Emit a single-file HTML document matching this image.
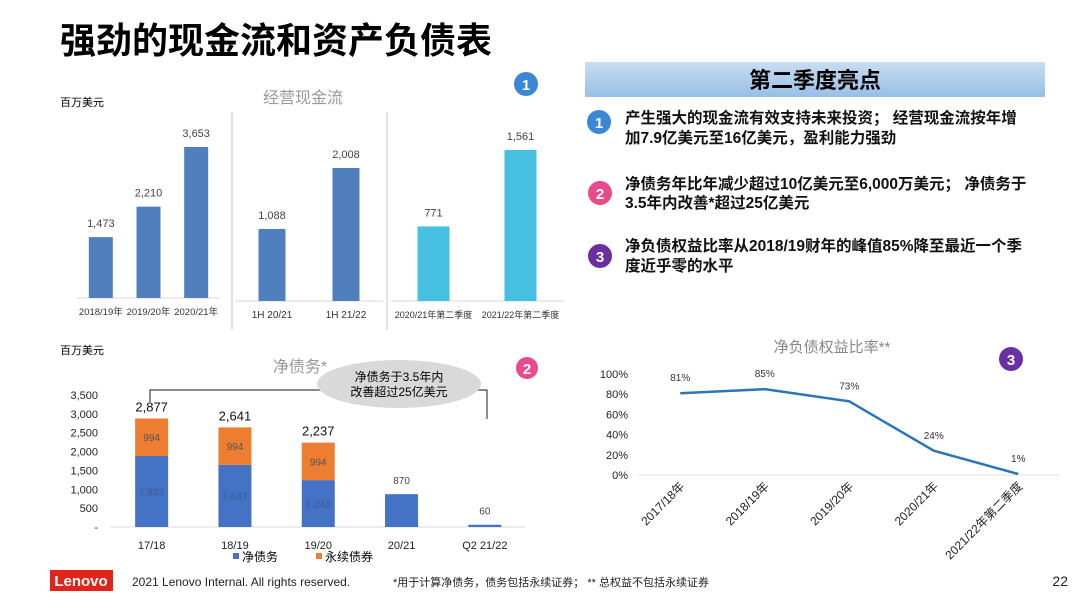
<!DOCTYPE html>
<html><head><meta charset="utf-8"><style>
body{margin:0;background:#fff}
svg{display:block;font-family:"Liberation Sans","Noto Sans CJK SC",sans-serif}
</style></head><body>
<svg width="1080" height="608" viewBox="0 0 1080 608">
<text x="60" y="53" font-size="36" font-weight="bold" fill="#000">强劲的现金流和资产负债表</text>

<defs><linearGradient id="hg" x1="0" y1="0" x2="0" y2="1"><stop offset="0" stop-color="#c9ddf2"/><stop offset="1" stop-color="#98bfe6"/></linearGradient></defs>
<rect x="585" y="62" width="460" height="35" fill="url(#hg)"/>
<text x="815" y="88" font-size="22" font-weight="bold" text-anchor="middle">第二季度亮点</text>
<g font-size="15.5" font-weight="bold" fill="#111">
<circle cx="599" cy="122" r="12" fill="#3a87d6"/><text x="599" y="128" fill="#fff" text-anchor="middle" font-size="15">1</text>
<text x="625" y="123"><tspan x="625">产生强大的现金流有效支持未来投资； 经营现金流按年增</tspan><tspan x="625" dy="20">加7.9亿美元至16亿美元，盈利能力强劲</tspan></text>
<circle cx="600" cy="193" r="12" fill="#e84a8c"/><text x="600" y="199" fill="#fff" text-anchor="middle" font-size="15">2</text>
<text x="625" y="189"><tspan x="625">净债务年比年减少超过10亿美元至6,000万美元； 净债务于</tspan><tspan x="625" dy="19">3.5年内改善*超过25亿美元</tspan></text>
<circle cx="600" cy="256" r="12" fill="#6a2fa0"/><text x="600" y="262" fill="#fff" text-anchor="middle" font-size="15">3</text>
<text x="625" y="251"><tspan x="625">净负债权益比率从2018/19财年的峰值85%降至最近一个季</tspan><tspan x="625" dy="20">度近乎零的水平</tspan></text>
</g>

<text x="60" y="106" font-size="11">百万美元</text>
<text x="303" y="103" font-size="16" fill="#999" text-anchor="middle">经营现金流</text>
<circle cx="526" cy="84" r="12" fill="#3a87d6"/><text x="526" y="90" fill="#fff" font-size="15" font-weight="bold" text-anchor="middle">1</text>
<line x1="232" y1="112" x2="232" y2="330" stroke="#e2e2e2" stroke-width="2"/>
<line x1="387" y1="112" x2="387" y2="330" stroke="#e2e2e2" stroke-width="2"/>
<g id="cf"></g>

<text x="60" y="354" font-size="11">百万美元</text>
<text x="300" y="372" font-size="16" fill="#999" text-anchor="middle">净债务*</text>
<circle cx="527" cy="368" r="11" fill="#e84a8c"/><text x="527" y="374" fill="#fff" font-size="15" font-weight="bold" text-anchor="middle">2</text>
<path d="M150 402 V390 H487 V419" fill="none" stroke="#444" stroke-width="1.2"/>
<ellipse cx="399" cy="384" rx="82" ry="24" fill="#d9d9d9"/>
<text x="399" y="381" font-size="12" text-anchor="middle"><tspan x="399">净债务于3.5年内</tspan><tspan x="399" dy="15">改善超过25亿美元</tspan></text>
<g id="nd"></g>
<rect x="233" y="553" width="6" height="6" fill="#4472c4"/>
<text x="242" y="561" font-size="12">净债务</text>
<rect x="316" y="553" width="6" height="6" fill="#ed7d31"/>
<text x="325" y="561" font-size="12">永续债券</text>

<text x="832" y="352" font-size="15" fill="#888" text-anchor="middle">净负债权益比率**</text>
<circle cx="1011" cy="359" r="12" fill="#6a2fa0"/><text x="1011" y="365" fill="#fff" font-size="15" font-weight="bold" text-anchor="middle">3</text>
<g id="lc"></g>

<rect x="50" y="570" width="63" height="21" fill="#e2231a"/>
<text x="81" y="586" font-size="15" font-weight="bold" fill="#fff" text-anchor="middle">Lenovo</text>
<text x="132" y="586" font-size="12" fill="#222">2021 Lenovo Internal. All rights reserved.</text>
<text x="393" y="586" font-size="11" fill="#222">*用于计算净债务，债务包括永续证券；  ** 总权益不包括永续证券</text>
<text x="1068" y="586" font-size="14" fill="#222" text-anchor="end">22</text>
</svg>
<script>
const NS='http://www.w3.org/2000/svg';
function mk(parent,tag,attrs,txt){const e=document.createElementNS(NS,tag);for(const k in attrs)e.setAttribute(k,attrs[k]);if(txt!==undefined)e.textContent=txt;parent.appendChild(e);return e;}
const fmt=v=>v.toLocaleString('en-US');

const cfAnnualCats=['2018/19年','2019/20年','2020/21年'];
const cfAnnualVals=[1473,2210,3653];
const cfHalfCats=['1H 20/21','1H 21/22'];
const cfHalfVals=[1088,2008];
const cfQtrCats=['2020/21年第二季度','2021/22年第二季度'];
const cfQtrVals=[771,1561];

const ndCats=['17/18','18/19','19/20','20/21','Q2 21/22'];
const ndNet=[1883,1647,1243,870,60];
const ndPerp=[994,994,994,0,0];
const ndTicks=[0,500,1000,1500,2000,2500,3000,3500];

const gCats=['2017/18年','2018/19年','2019/20年','2020/21年','2021/22年第二季度'];
const gVals=[81,85,73,24,1];
const gTicks=[0,20,40,60,80,100];

const cf=document.getElementById('cf');
function panel(cats,vals,x0,x1,base,scale,bw,color,fs){
  const ln=mk(cf,'line',{x1:x0,y1:base,x2:x1,y2:base,stroke:'#d9d9d9'});
  
  
  const step=(x1-x0)/cats.length;
  cats.forEach((c,i)=>{
    const cx=x0+step*(i+0.5),h=vals[i]*scale;
    const r=mk(cf,'rect',{x:cx-bw/2,y:base-h,width:bw,height:h,fill:color});
    
    
    const t=mk(cf,'text',{x:cx,y:base-h-10,'font-size':11,'text-anchor':'middle',fill:'#444'},fmt(vals[i]));
    
    
    const l=mk(cf,'text',{x:cx,y:base+17,'font-size':fs,'text-anchor':'middle',fill:'#333'},c);
    
    
  });
}
panel(cfAnnualCats,cfAnnualVals,77,220,298,151/3653,24,'#4f7fbd',9.5);
panel(cfHalfCats,cfHalfVals,235,383,301,133/2008,27,'#4f7fbd',10);
panel(cfQtrCats,cfQtrVals,390,564,301,151/1561,32,'#45c0e0',9);

const nd=document.getElementById('nd');
const ndBase=527,ndScale=132/3500,ndX0=110,ndStep=83.3;
const ndY=v=>ndBase-v*ndScale;
const ndX=i=>ndX0+ndStep*(i+0.5);
const ax=mk(nd,'line',{x1:110,y1:ndBase,x2:525,y2:ndBase,stroke:'#d9d9d9'});


ndTicks.forEach(v=>{
  const t=mk(nd,'text',{x:98,y:ndY(v)+4,'font-size':11,'text-anchor':'end',fill:'#222'},v===0?'-':fmt(v));
  
  
});
ndCats.forEach((c,i)=>{
  const cx=ndX(i),bw=33;
  const r1=mk(nd,'rect',{x:cx-bw/2,y:ndY(ndNet[i]),width:bw,height:ndNet[i]*ndScale,fill:'#4472c4'});
  
  
  if(ndPerp[i]>0){
    const r2=mk(nd,'rect',{x:cx-bw/2,y:ndY(ndNet[i]+ndPerp[i]),width:bw,height:ndPerp[i]*ndScale,fill:'#ed7d31'});
    
    
    const a=mk(nd,'text',{x:cx,y:ndY(ndNet[i])+(ndNet[i]*ndScale)/2+4,'font-size':10,'text-anchor':'middle',fill:'#3a5a9a'},fmt(ndNet[i]));
    
    
    const b=mk(nd,'text',{x:cx,y:ndY(ndNet[i]+ndPerp[i]/2)+4,'font-size':10,'text-anchor':'middle',fill:'#555'},fmt(ndPerp[i]));
    
    
    const tt=mk(nd,'text',{x:cx,y:ndY(ndNet[i]+ndPerp[i])-7,'font-size':13,'text-anchor':'middle',fill:'#111'},fmt(ndNet[i]+ndPerp[i]));
    
    
  } else {
    const tt=mk(nd,'text',{x:cx,y:ndY(ndNet[i])-10,'font-size':10,'text-anchor':'middle',fill:'#444'},fmt(ndNet[i]));
    
    
  }
  const l=mk(nd,'text',{x:cx,y:549,'font-size':11,'text-anchor':'middle',fill:'#222'},c);
  
  
});

const lc=document.getElementById('lc');
const gBase=475,gScale=101/100,gX0=638,gStep=84.5;
const gY=v=>gBase-v*gScale;
const gX=i=>gX0+gStep*(i+0.5);
const gax=mk(lc,'line',{x1:638,y1:gBase,x2:1060,y2:gBase,stroke:'#e0e0e0'});


gTicks.forEach(v=>{
  const t=mk(lc,'text',{x:628,y:gY(v)+4,'font-size':11,'text-anchor':'end',fill:'#222'},v+'%');
  
  
});
const pl=mk(lc,'polyline',{points:gVals.map((v,i)=>gX(i)+','+gY(v)).join(' '),fill:'none',stroke:'#2a76b8','stroke-width':2.5});


gCats.forEach((c,i)=>{
  const cx=gX(i);
  const v=mk(lc,'text',{x:cx,y:gY(gVals[i])-12,'font-size':10,'text-anchor':'middle',fill:'#333'},gVals[i]+'%');
  
  
  const l=mk(lc,'text',{x:cx+5,y:487,'font-size':12,'text-anchor':'end',fill:'#222',transform:'rotate(-45 '+(cx+5)+' 487)'},c);
  
  
});
</script>
</body></html>
